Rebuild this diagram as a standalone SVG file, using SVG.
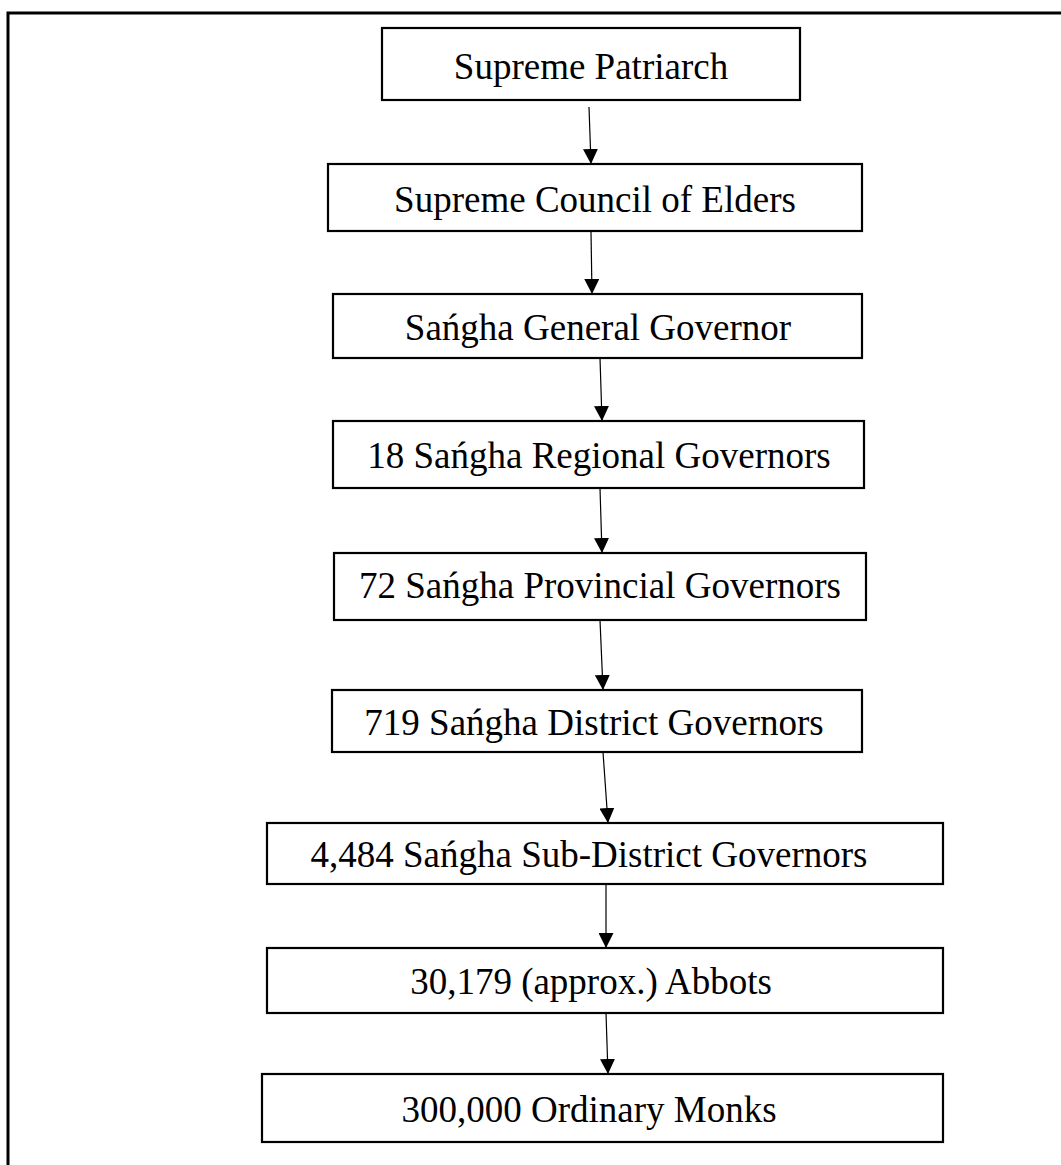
<svg xmlns="http://www.w3.org/2000/svg" width="1061" height="1165" viewBox="0 0 1061 1165">
  <style>
    .box { fill: #ffffff; stroke: #000000; stroke-width: 2.2; }
    .lbl { font-family: "Liberation Serif", "Times New Roman", serif; font-size: 37px; fill: #000000; text-anchor: middle; }
    .edge { stroke: #000000; stroke-width: 1.2; fill: none; marker-end: url(#head); }
    .frame { stroke: #000000; stroke-width: 3; fill: none; }
  </style>
  <defs>
    <marker id="head" markerUnits="userSpaceOnUse" markerWidth="15" markerHeight="15" refX="15" refY="7.5" orient="auto">
      <path d="M0,0 L15,7.5 L0,15 z" fill="#000000"/>
    </marker>
  </defs>
  <rect width="1061" height="1165" fill="#ffffff"/>

  <!-- outer frame (top and left edges) -->
  <path class="frame" d="M8,1165 L8,13 L1061,13"/>

  <g id="n1">
    <rect class="box" x="382" y="28" width="418" height="72"/>
    <text class="lbl" x="591" y="79">Supreme Patriarch</text>
  </g>
  <g id="n2">
    <rect class="box" x="328" y="164" width="534" height="67"/>
    <text class="lbl" x="595" y="212">Supreme Council of Elders</text>
  </g>
  <g id="n3">
    <rect class="box" x="333" y="294" width="529" height="64"/>
    <text class="lbl" x="598" y="340">Sańgha General Governor</text>
  </g>
  <g id="n4">
    <rect class="box" x="333" y="421" width="531" height="67"/>
    <text class="lbl" x="599" y="468">18 Sańgha Regional Governors</text>
  </g>
  <g id="n5">
    <rect class="box" x="334" y="553" width="532" height="67"/>
    <text class="lbl" x="600" y="598">72 Sańgha Provincial Governors</text>
  </g>
  <g id="n6">
    <rect class="box" x="332" y="690" width="530" height="62"/>
    <text class="lbl" x="594" y="735">719 Sańgha District Governors</text>
  </g>
  <g id="n7">
    <rect class="box" x="267" y="823" width="676" height="61"/>
    <text class="lbl" x="589" y="867">4,484 Sańgha Sub-District Governors</text>
  </g>
  <g id="n8">
    <rect class="box" x="267" y="948" width="676" height="65"/>
    <text class="lbl" x="591" y="994">30,179 (approx.) Abbots</text>
  </g>
  <g id="n9">
    <rect class="box" x="262" y="1074" width="681" height="68"/>
    <text class="lbl" x="589" y="1122">300,000 Ordinary Monks</text>
  </g>

  <g id="connectors">
    <line class="edge" x1="589" y1="107" x2="591" y2="164"/>
    <line class="edge" x1="591" y1="232" x2="592" y2="294"/>
    <line class="edge" x1="600" y1="358" x2="602" y2="421"/>
    <line class="edge" x1="600" y1="488" x2="602" y2="553"/>
    <line class="edge" x1="600" y1="620" x2="603" y2="690"/>
    <line class="edge" x1="603" y1="752" x2="608" y2="823"/>
    <line class="edge" x1="606" y1="884" x2="606" y2="948"/>
    <line class="edge" x1="606" y1="1013" x2="608" y2="1074"/>
  </g>
</svg>
